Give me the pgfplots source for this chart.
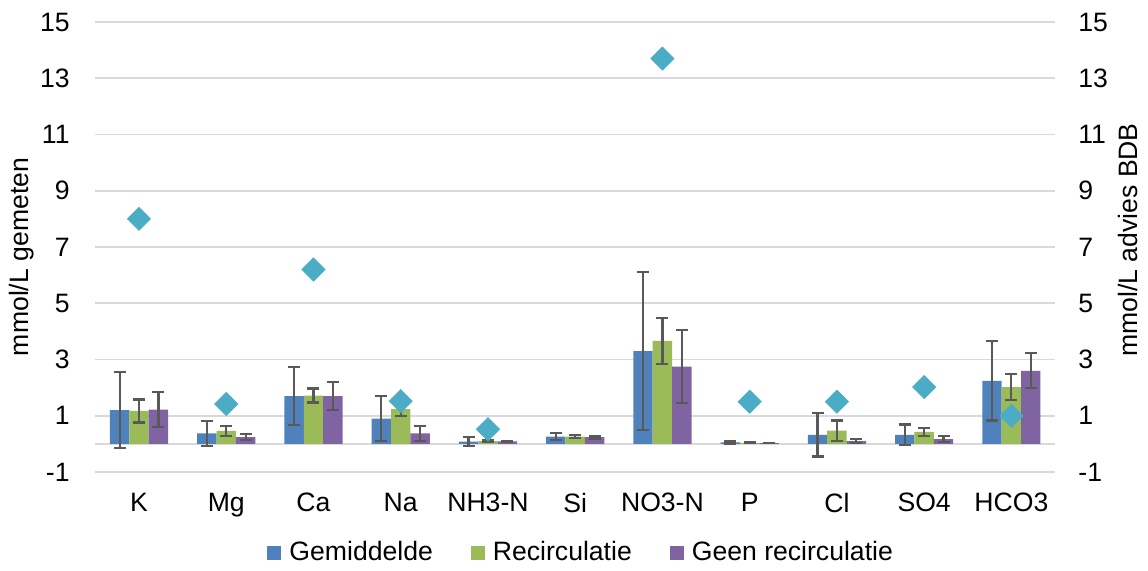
\documentclass[border=0pt]{standalone}
\usepackage{fontspec}
\setmainfont{Liberation Sans}
\usepackage{pgfplots}
\usepackage{pgfplotstable}
\pgfplotsset{compat=1.18}
\definecolor{cblue}{HTML}{4F81BD}
\definecolor{cgreen}{HTML}{9BBB59}
\definecolor{cpurple}{HTML}{8064A2}
\definecolor{caqua}{HTML}{4BACC6}
\definecolor{cgrid}{HTML}{D9D9D9}
\definecolor{cerr}{HTML}{595959}

\pgfplotstableread{
x   g     ge    r     re    n     ne
0   1.20  1.36  1.17  0.41  1.22  0.62
1   0.37  0.44  0.46  0.18  0.24  0.11
2   1.70  1.02  1.72  0.25  1.70  0.50
3   0.90  0.80  1.24  0.26  0.37  0.27
4   0.08  0.16  0.10  0.04  0.09  0.02
5   0.26  0.12  0.26  0.05  0.24  0.05
6   3.30  2.82  3.66  0.83  2.75  1.30
7   0.05  0.04  0.04  0.01  0.03  0.01
8   0.32  0.77  0.47  0.36  0.10  0.07
9   0.32  0.37  0.43  0.14  0.17  0.10
10  2.24  1.41  2.02  0.46  2.60  0.62
}\bars

\pgfplotstableread{
x   a
0   8.00
1   1.42
2   6.20
3   1.52
4   0.52
6   13.70
7   1.50
8   1.50
9   2.02
10  1.00
}\bdb

\pgfplotsset{
  sqleg/.style={legend image code/.code={\fill[##1] (0pt,-3.5pt) rectangle (7pt,3.5pt); \path (9pt,0pt);}},
  errsty/.style={error bars/.cd, y dir=both, y explicit,
    error bar style={cerr, line width=1.1pt},
    error mark options={cerr, line width=1.1pt, mark size=3pt, rotate=90}},
}

\begin{document}
\fontsize{13.3}{16}\selectfont
\begin{tikzpicture}
\useasboundingbox (-47.7pt,-49pt) rectangle (526.3pt,236pt);
\begin{axis}[
  width=479.8pt, height=225pt, scale only axis,
  xmin=-0.5, xmax=10.5, ymin=-1, ymax=15,
  ytick={-1,1,...,15},
  xtick={0,...,10},
  xticklabels={K,Mg,Ca,Na,NH3-N,Si,NO3-N,P,Cl,SO4,HCO3},
  axis x line*=bottom, axis y line*=left,
  axis line style={draw=none},
  major tick length=0pt,
  ymajorgrids, grid style={cgrid, line width=0.9pt},
  extra y ticks={0}, extra y tick labels={},
  extra y tick style={grid=major},
  ybar=0pt, bar width=9.7pt,
  /pgf/number format/assume math mode=true,
  yticklabel style={anchor=east, inner sep=0pt, xshift=-12.7pt},
  xticklabel style={anchor=north, inner sep=0pt, yshift=-10.5pt},
  ylabel={mmol/L gemeten},
  every axis y label/.style={at={(axis description cs:0,0.5)}, xshift=-36.7pt, yshift=-5pt, rotate=90, anchor=center},
  legend style={at={(0.5,0)}, anchor=center, xshift=3.5pt, yshift=-40.5pt, draw=none, fill=none,
    legend columns=-1, /tikz/every even column/.append style={column sep=17pt},
    font=\fontsize{13.3}{16}\selectfont},
]
\addplot[fill=cblue, draw=none, sqleg, errsty] table[x=x, y=g, y error=ge]{\bars};
\addlegendentry{Gemiddelde}
\addplot[fill=cgreen, draw=none, sqleg, errsty] table[x=x, y=r, y error=re]{\bars};
\addlegendentry{Recirculatie}
\addplot[fill=cpurple, draw=none, sqleg, errsty] table[x=x, y=n, y error=ne]{\bars};
\addlegendentry{Geen recirculatie}
\end{axis}
\begin{axis}[
  width=479.8pt, height=225pt, scale only axis,
  xmin=-0.5, xmax=10.5, ymin=-1, ymax=15,
  ytick={-1,1,...,15},
  axis x line=none, axis y line*=right,
  axis line style={draw=none},
  major tick length=0pt,
  /pgf/number format/assume math mode=true,
  yticklabel style={anchor=west, inner sep=0pt, xshift=11.5pt},
  ylabel={mmol/L advies BDB},
  every axis y label/.style={at={(axis description cs:1,0.5)}, xshift=36.5pt, yshift=3.5pt, rotate=90, anchor=center},
]
\addplot[only marks, mark=square*, mark size=4.07pt,
  mark options={rotate=45, fill=caqua, draw=caqua}] table[x=x, y=a]{\bdb};
\end{axis}
\end{tikzpicture}
\end{document}
